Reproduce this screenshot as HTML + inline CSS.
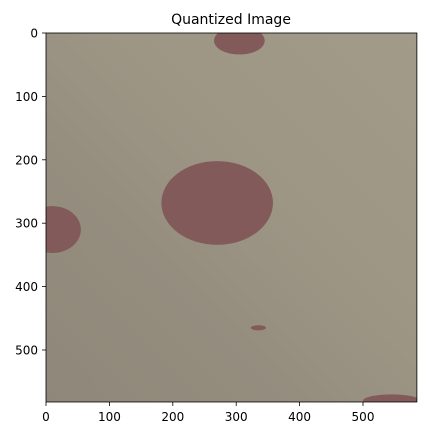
<!DOCTYPE html>
<html><head><meta charset="utf-8"><style>
html,body{margin:0;padding:0;background:#fff;width:426px;height:435px;overflow:hidden}
text{font-family:"DejaVu Sans","Liberation Sans",sans-serif;font-size:12px;fill:#000}
</style></head><body>
<svg id="c" width="426" height="435">
<defs><clipPath id="clip"><rect x="46" y="33" width="370.9" height="369"/></clipPath></defs>
<text x="231" y="24" text-anchor="middle" style="font-size:14px">Quantized Image</text>
<g id="img" clip-path="url(#clip)"></g>
<g id="axes"></g>
</svg>
<script>
const imgW=585, imgH=582;
const xTicks=[0,100,200,300,400,500];
const yTicks=[0,100,200,300,400,500];
const blobCx=[270,10,305,545,335];
const blobCy=[268,310,12,580,465];
const blobRx=[88,45,40,45,12];
const blobRy=[66,37,22,10,4];
const L=46,T=33,S=0.634;
const X=v=>L+v*S, Y=v=>T+v*S;
const ns="http://www.w3.org/2000/svg";
function mk(t,a,p){const e=document.createElementNS(ns,t);for(const k in a)e.setAttribute(k,a[k]);p.appendChild(e);return e;}
const g=document.getElementById('img'), ax=document.getElementById('axes');
const defs=document.querySelector('defs');
const lg=mk('linearGradient',{id:'gr',x1:'0',y1:'1',x2:'1',y2:'0'},defs);
mk('stop',{offset:'0','stop-color':'#8f8779'},lg);
mk('stop',{offset:'0.35','stop-color':'#958d7e'},lg);
mk('stop',{offset:'0.6','stop-color':'#9e9685'},lg);
mk('stop',{offset:'1','stop-color':'#a39b89'},lg);
const bg=mk('rect',{x:X(0),y:Y(0),width:imgW*S,height:imgH*S,fill:'url(#gr)'},g);


blobCx.forEach((cx,i)=>{
 const e=mk('ellipse',{cx:X(cx),cy:Y(blobCy[i]),rx:blobRx[i]*S,ry:blobRy[i]*S,fill:'#825a5a'},g);
 
 
});
const fr=mk('rect',{x:X(0),y:Y(0),width:imgW*S,height:imgH*S,fill:'none',stroke:'#000','stroke-width':0.8},ax);


xTicks.forEach(v=>{
 mk('line',{x1:X(v),x2:X(v),y1:Y(imgH),y2:Y(imgH)+4,stroke:'#000','stroke-width':0.8},ax);
 const t=mk('text',{x:X(v),y:Y(imgH)+19,'text-anchor':'middle'},ax);t.textContent=v;
 
 
});
yTicks.forEach(v=>{
 mk('line',{x1:X(0)-4,x2:X(0),y1:Y(v),y2:Y(v),stroke:'#000','stroke-width':0.8},ax);
 const t=mk('text',{x:X(0)-8,y:Y(v)+4.5,'text-anchor':'end'},ax);t.textContent=v;
 
 
});
</script>
</body></html>
